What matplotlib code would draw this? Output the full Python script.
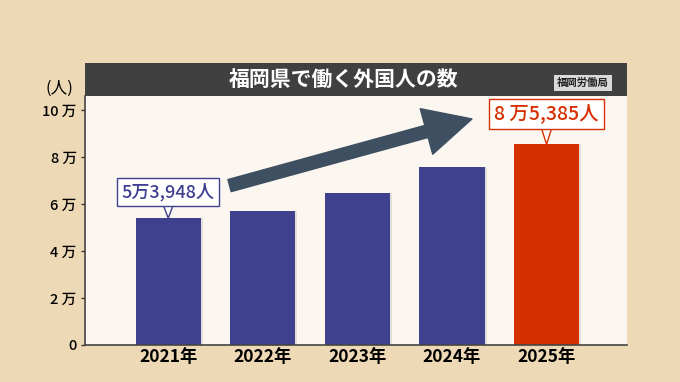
import matplotlib.pyplot as plt
from matplotlib.patches import Rectangle, FancyArrowPatch

plt.rcParams['font.family'] = ['Noto Sans CJK JP', 'DejaVu Sans']

# データ（福岡労働局）
years = ['2021年', '2022年', '2023年', '2024年', '2025年']
workers = [53948, 57100, 64800, 75900, 85385]
yticks = [0, 20000, 40000, 60000, 80000, 100000]
ytick_labels = ['0', '2 万', '4 万', '6 万', '8 万', '10 万']
first_label = '5万3,948人'
last_label = '8 万5,385人'

bg = '#EDD9B5'
navy = '#3F418F'
red = '#D63000'

fig = plt.figure(figsize=(6.8, 3.82), dpi=100, facecolor=bg)
ax = fig.add_axes([0.125, 0.097, 0.797, 0.652])
ax.set_facecolor('#FBF6EF')

x = list(range(len(years)))
colors = [navy] * (len(years) - 1) + [red]
# うっすら影
ax.bar([i + 0.02 for i in x], workers, width=0.69, color='#9a9a9a', alpha=0.25, zorder=1)
ax.bar(x, workers, width=0.69, color=colors, zorder=2)

ax.set_xlim(-0.88, 4.85)
ax.set_ylim(0, 106000)
ax.set_xticks(x)
ax.set_xticklabels(years, fontsize=12.5, fontweight='bold')
ax.set_yticks(yticks)
ax.set_yticklabels(ytick_labels, fontsize=10.5, fontweight='medium')
ax.tick_params(axis='x', length=0, pad=2)
ax.tick_params(axis='y', length=3, width=1, color='#333333', pad=3)
for s in ['top', 'right']:
    ax.spines[s].set_visible(False)
for s in ['left', 'bottom']:
    ax.spines[s].set_color('#444444')
    ax.spines[s].set_linewidth(1.2)

# タイトルバー
fig.patches.append(Rectangle((0.125, 0.749), 0.797, 0.086, transform=fig.transFigure,
                             facecolor='#404040', edgecolor='none'))
fig.text(0.505, 0.792, '福岡県で働く外国人の数', color='white', fontsize=15,
         fontweight='bold', ha='center', va='center')
fig.text(0.857, 0.782, '福岡労働局', color='#222222', fontsize=7.5, fontweight='bold',
         ha='center', va='center',
         bbox=dict(boxstyle='square,pad=0.3', facecolor='#D9D9D9', edgecolor='none'))
fig.text(0.088, 0.77, '(人)', fontsize=12, ha='center', va='center')

# 吹き出し
ax.annotate(first_label, xy=(0, workers[0]), xytext=(0, 19), textcoords='offset points',
            ha='center', va='center', fontsize=13, fontweight='medium', color=navy, zorder=5,
            bbox=dict(boxstyle='square,pad=0.25', facecolor='white', edgecolor=navy, lw=1),
            arrowprops=dict(arrowstyle='wedge,tail_width=0.5', facecolor='white',
                            edgecolor=navy, lw=1, shrinkA=0, shrinkB=0))
ax.annotate(last_label, xy=(4, workers[4]), xytext=(0, 22), textcoords='offset points',
            ha='center', va='center', fontsize=14, fontweight='medium', color=red, zorder=5,
            bbox=dict(boxstyle='square,pad=0.25', facecolor='white', edgecolor=red, lw=1),
            arrowprops=dict(arrowstyle='wedge,tail_width=0.5', facecolor='white',
                            edgecolor=red, lw=1, shrinkA=0, shrinkB=0))

# 増加を示す矢印
arrow = FancyArrowPatch((0.62, 67500), (3.24, 96500),
                        arrowstyle='simple,head_length=34,head_width=34,tail_width=9',
                        mutation_scale=1, color='#3D4F60', zorder=4)
ax.add_patch(arrow)

plt.savefig('out.png', dpi=100, facecolor=bg)
